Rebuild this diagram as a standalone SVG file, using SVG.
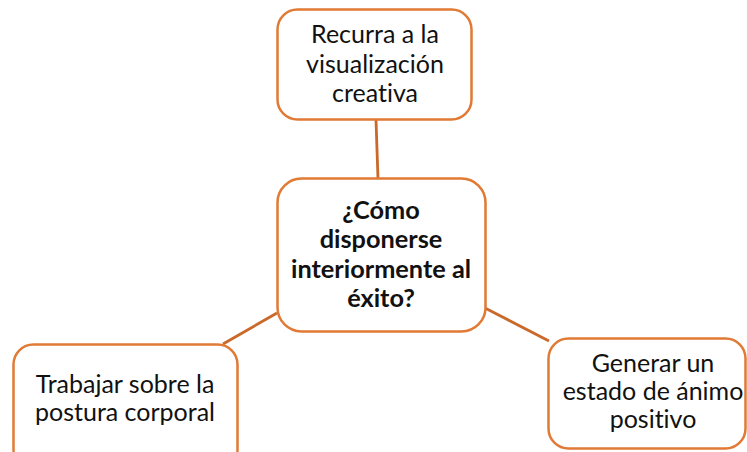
<svg xmlns="http://www.w3.org/2000/svg" width="747" height="452" viewBox="0 0 747 452">
<style>
.box{fill:#fff;stroke:#E07A35;stroke-width:2.5}
.c{stroke:#C9692A;stroke-width:2.8;fill:none}
text{font-family:Lato,"Open Sans",sans-serif;font-size:25px;fill:#111;text-anchor:middle;font-variant-ligatures:none;font-feature-settings:"liga" 0}
.b{font-weight:bold;font-size:25.3px}
</style>
<rect width="747" height="452" fill="#fff"/>
<g id="connectors">
<line class="c" x1="376" y1="120" x2="378" y2="179"/>
<line class="c" x1="277" y1="313" x2="223" y2="344"/>
<line class="c" x1="485" y1="308" x2="549" y2="341"/>
</g>
<g id="top">
<rect class="box" x="277.5" y="9.5" width="194" height="110" rx="20"/>
<text x="375" y="43">Recurra a la</text>
<text x="375" y="73">visualización</text>
<text x="375" y="102">creativa</text>
</g>
<g id="center">
<rect class="box" x="277.5" y="178.5" width="208" height="153" rx="24"/>
<text class="b" x="381" y="219">¿Cómo</text>
<text class="b" x="381" y="248">disponerse</text>
<text class="b" x="381" y="278">interiormente al</text>
<text class="b" x="381" y="307">éxito?</text>
</g>
<g id="left">
<rect class="box" x="13.5" y="344.5" width="224" height="125" rx="20"/>
<text x="125" y="393">Trabajar sobre la</text>
<text x="125" y="421">postura corporal</text>
</g>
<g id="right">
<rect class="box" x="548.5" y="338.5" width="197" height="110" rx="20"/>
<text x="653" y="372">Generar un</text>
<text x="653" y="400">estado de ánimo</text>
<text x="653" y="428">positivo</text>
</g>
</svg>
